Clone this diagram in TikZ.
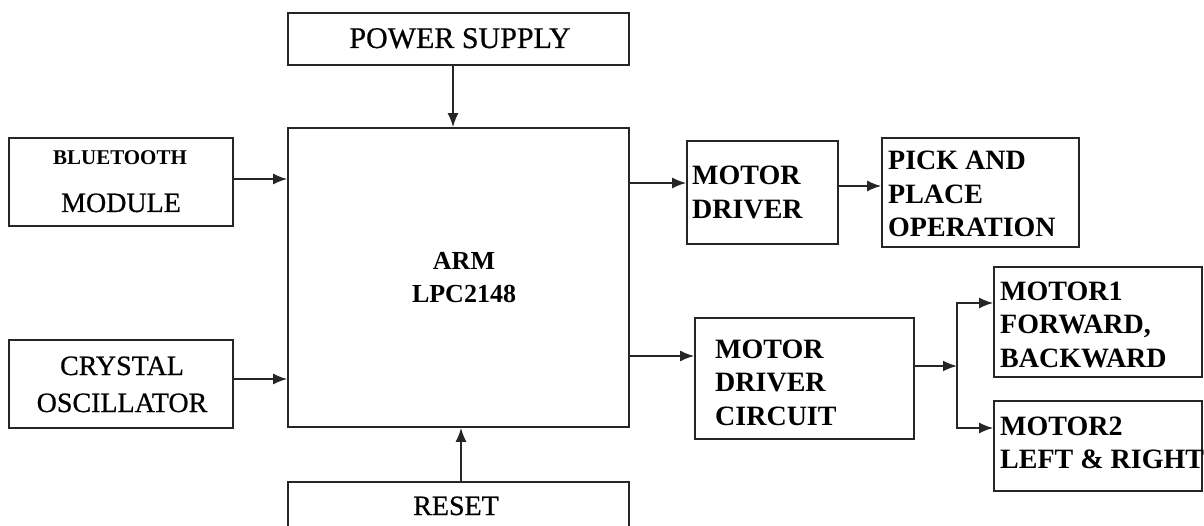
\documentclass[tikz,border=0pt]{standalone}
\usepackage{fontspec}
\setmainfont{Liberation Serif}
\newfontfamily\medserif[FakeBold=0.6]{Liberation Serif}
\usetikzlibrary{arrows.meta}
\tikzset{
  blk/.style={draw=black!85, line width=1.6pt, inner sep=0pt, rectangle},
  arr/.style={draw=black!85, line width=1.8pt, -{Latex[length=14pt,width=11pt]}},
  bigb/.style={font=\fontsize{28}{33.5}\selectfont\bfseries, align=left, anchor=base west, inner sep=0pt},
  bigr/.style={font=\fontsize{28}{37}\selectfont\medserif, align=center, anchor=base, inner sep=0pt},
}
\begin{document}
\begin{tikzpicture}[x=1pt,y=-1pt]
\useasboundingbox (0,0) rectangle (1204,526);
\fill[white] (0,0) rectangle (1204,526);
\begin{scope}
\clip (0,0) rectangle (1204,526);
% boxes
\node[blk, minimum width=341pt, minimum height=52pt] (pw) at (458.5,39) {};
\node[blk, minimum width=341pt, minimum height=299pt] (arm) at (458.5,277.5) {};
\node[blk, minimum width=341pt, minimum height=58pt] (rst) at (458.5,511) {};
\node[blk, minimum width=224pt, minimum height=88pt] (bt) at (121,182) {};
\node[blk, minimum width=224pt, minimum height=88pt] (cr) at (121,384) {};
\node[blk, minimum width=151pt, minimum height=103pt] (md) at (762.5,192.5) {};
\node[blk, minimum width=197pt, minimum height=109pt] (pp) at (980.5,192.5) {};
\node[blk, minimum width=219pt, minimum height=121pt] (mdc) at (804.5,378.5) {};
\node[blk, minimum width=208pt, minimum height=110pt] (m1) at (1098,322) {};
\node[blk, minimum width=208pt, minimum height=90pt] (m2) at (1098,446) {};
% texts (anchor base = baseline of the last line)
\node[bigr, font=\fontsize{30}{34}\selectfont\medserif] (tpw) at (460,48) {POWER SUPPLY};
\node[bigr] (trst) at (456,515) {RESET};
\node[bigr, font=\fontsize{26}{33}\selectfont\bfseries] (tarm) at (464,303) {ARM\\LPC2148};
\node[bigr, font=\fontsize{21}{25}\selectfont\bfseries] (tbt) at (120,165) {BLUETOOTH};
\node[bigr] (tmod) at (121,212) {MODULE};
\node[bigr] (tcr) at (122,412) {CRYSTAL\\OSCILLATOR};
\node[bigb, font=\fontsize{28}{34}\selectfont\bfseries] (tmd) at (692,219) {MOTOR\\DRIVER};
\node[bigb] (tpp) at (888,237) {PICK AND\\PLACE\\OPERATION};
\node[bigb] (tmdc) at (715,425) {MOTOR\\DRIVER\\CIRCUIT};
\node[bigb] (tm1) at (1000,367) {MOTOR1\\FORWARD,\\BACKWARD};
\node[bigb, font=\fontsize{28}{33}\selectfont\bfseries] (tm2) at (1000,468) {MOTOR2\\LEFT \& RIGHT};
% connectors
\draw[arr] (pw.south -| 453,0) -- (arm.north -| 453,0);
\draw[arr] (rst.north -| 461,0) -- (arm.south -| 461,0);
\draw[arr] (bt.east |- 0,179) -- (arm.west |- 0,179);
\draw[arr] (cr.east |- 0,379) -- (arm.west |- 0,379);
\draw[arr] (arm.east |- 0,183) -- (md.west |- 0,183);
\draw[arr] (md.east |- 0,186) -- (pp.west |- 0,186);
\draw[arr] (arm.east |- 0,356) -- (mdc.west |- 0,356);
\coordinate (j) at (957,366);
\draw[arr] (mdc.east |- j) -- (j);
\draw[arr] (j) |- (m1.west |- 0,303);
\draw[arr] (j) |- (m2.west |- 0,428);
\end{scope}
\end{tikzpicture}
\end{document}
